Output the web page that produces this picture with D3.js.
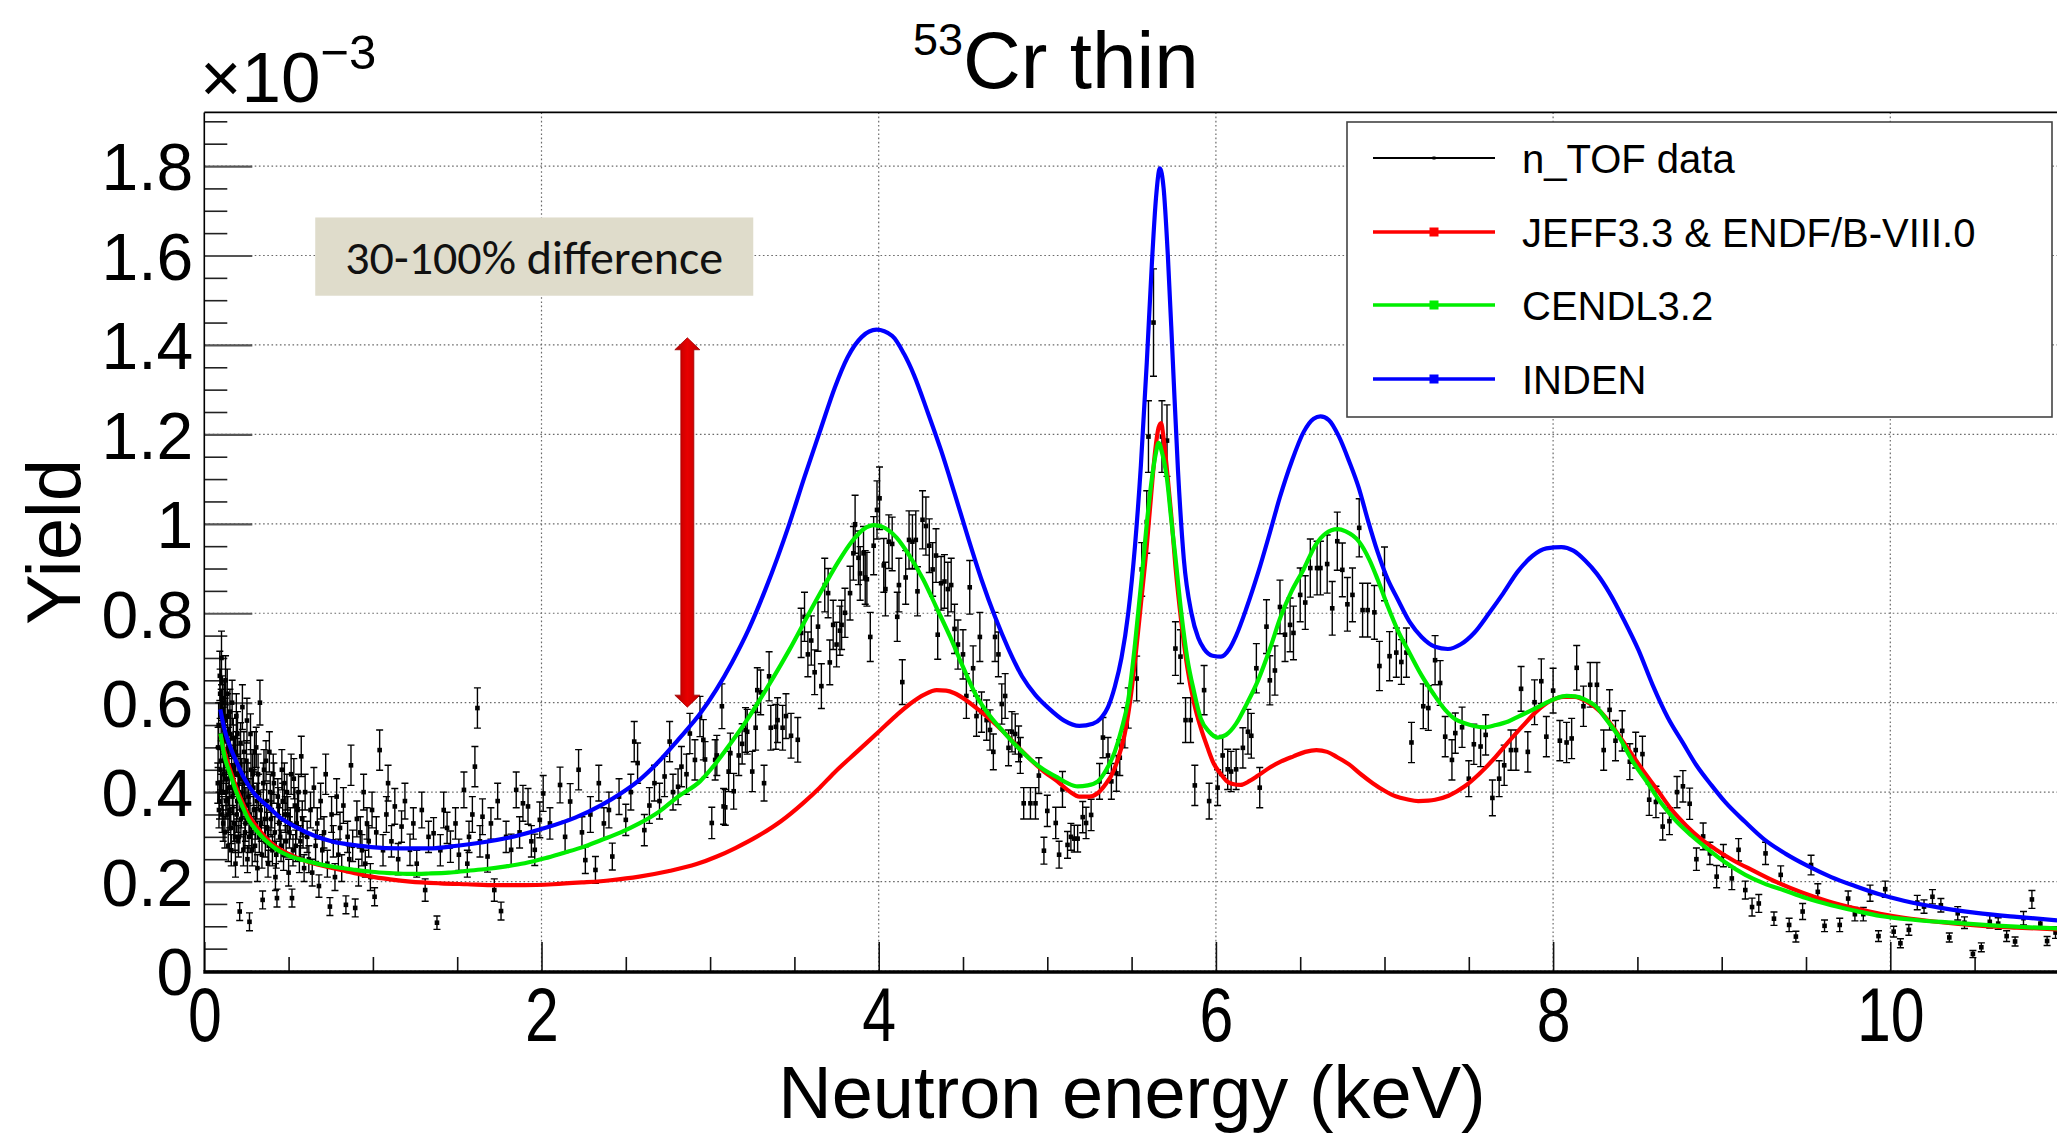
<!DOCTYPE html>
<html><head><meta charset="utf-8">
<script src="https://cdn.jsdelivr.net/npm/d3@7"></script>
<style>
html,body{margin:0;padding:0;background:#fff;}
svg{display:block;}
</style></head><body>
<svg id="chart" width="2057" height="1134"></svg>
<script>
// ---------------- DATA ----------------
// n_TOF data, in segments: energy (keV), yield (x1e-3), error (x1e-3)
const s1E = [0.080,0.085,0.090,0.094,0.098,0.102,0.106,0.110,0.114,0.118,
0.122,0.126,0.130,0.134,0.138,0.142,0.146,0.150,0.155,0.160,
0.165,0.170,0.175,0.180,0.185,0.190,0.195,0.200,0.205,0.210,
0.215,0.220,0.226,0.232,0.238,0.244,0.250,0.256,0.262,0.268,
0.274,0.280,0.287,0.294,0.301,0.308,0.315,0.322,0.330,0.338,
0.346,0.354,0.362,0.370,0.378,0.386,0.395,0.404,0.413,0.422,
0.431,0.440,0.450,0.460,0.470,0.480,0.490,0.500,0.510,0.520,
0.531,0.542,0.553,0.564,0.575,0.586,0.598];
const s1Y = [0.42,0.55,0.38,0.62,0.47,0.70,0.35,0.52,0.44,0.60,
0.31,0.65,0.40,0.49,0.57,0.28,0.45,0.36,0.53,0.27,
0.60,0.41,0.33,0.48,0.24,0.57,0.38,0.44,0.30,0.133,
0.51,0.36,0.59,0.27,0.42,0.33,0.47,0.25,0.39,0.110,
0.53,0.31,0.44,0.36,0.28,0.50,0.23,0.40,0.60,0.33,
0.159,0.45,0.29,0.38,0.24,0.49,0.34,0.27,0.42,0.21,
0.163,0.37,0.30,0.45,0.26,0.35,0.40,0.22,0.33,0.163,
0.43,0.28,0.36,0.25,0.48,0.31,0.40];
const s1Err = [0.045,0.05,0.04,0.055,0.045,0.06,0.04,0.05,0.045,0.05,
0.035,0.055,0.04,0.045,0.05,0.035,0.045,0.04,0.05,0.035,
0.05,0.045,0.04,0.045,0.03,0.05,0.04,0.045,0.035,0.02,
0.045,0.04,0.05,0.035,0.045,0.04,0.045,0.03,0.04,0.02,
0.045,0.035,0.045,0.04,0.035,0.045,0.03,0.04,0.05,0.04,
0.02,0.045,0.035,0.04,0.03,0.045,0.04,0.035,0.045,0.03,
0.02,0.04,0.035,0.045,0.035,0.04,0.04,0.03,0.035,0.02,
0.045,0.035,0.04,0.03,0.045,0.035,0.04];

const s2E = [0.082,0.087,0.092,0.096,0.100,0.104,0.108,0.112,0.116,0.120,
0.124,0.128,0.132,0.136,0.140,0.144,0.148,0.152,0.157,0.162,
0.167,0.172,0.177,0.182,0.187,0.192,0.197,0.202,0.207,0.212,
0.217,0.223,0.229,0.235,0.241,0.247,0.253,0.259,0.265,0.271,
0.277,0.284,0.291,0.298,0.305,0.312,0.319,0.326,0.334,0.342,
0.350,0.358,0.366,0.374,0.382,0.391,0.400,0.409,0.418,0.427,
0.436,0.445,0.455,0.465,0.475,0.485,0.495,0.505,0.515,0.526,
0.537,0.548,0.559,0.570,0.581,0.592];
const s2Y = [0.50,0.36,0.66,0.45,0.58,0.40,0.61,0.33,0.54,0.47,
0.56,0.38,0.43,0.62,0.35,0.50,0.41,0.58,0.32,0.46,
0.39,0.52,0.44,0.30,0.49,0.35,0.53,0.29,0.40,0.46,
0.34,0.43,0.38,0.49,0.31,0.37,0.56,0.42,0.30,0.35,
0.45,0.27,0.41,0.49,0.33,0.38,0.44,0.30,0.36,0.26,
0.42,0.34,0.47,0.32,0.28,0.40,0.36,0.44,0.31,0.26,
0.39,0.33,0.28,0.38,0.42,0.29,0.35,0.31,0.44,0.27,
0.37,0.33,0.40,0.29,0.34,0.23];
const s2Err = [0.045,0.04,0.055,0.045,0.05,0.04,0.05,0.04,0.05,0.045,
0.05,0.04,0.045,0.055,0.04,0.045,0.04,0.05,0.035,0.045,
0.04,0.045,0.045,0.035,0.045,0.04,0.05,0.035,0.04,0.045,
0.04,0.045,0.04,0.045,0.035,0.04,0.05,0.045,0.035,0.04,
0.045,0.035,0.04,0.045,0.035,0.04,0.045,0.035,0.04,0.03,
0.045,0.04,0.045,0.035,0.035,0.04,0.04,0.045,0.035,0.03,
0.04,0.035,0.035,0.04,0.045,0.035,0.04,0.035,0.045,0.035,
0.04,0.035,0.04,0.035,0.04,0.03];

const s3E = [0.61,0.62,0.63,0.64,0.65,0.66,0.67,0.68,0.69,0.70,
0.71,0.72,0.73,0.745,0.755,0.765,0.775,0.785,0.795,0.805,
0.815,0.825,0.84,0.85,0.86,0.87,0.88,0.895,0.905,0.915,
0.925,0.935,0.945,0.955,0.965,0.975,0.985,0.995];
const s3Y = [0.30,0.25,0.36,0.22,0.41,0.28,0.33,0.19,0.38,0.27,
0.31,0.44,0.24,0.144,0.35,0.29,0.21,0.39,0.26,0.32,
0.23,0.37,0.148,0.30,0.25,0.46,0.28,0.141,0.34,0.22,
0.31,0.27,0.40,0.24,0.33,0.29,0.21,0.36];
const s3Err = [0.035,0.03,0.04,0.03,0.045,0.035,0.035,0.025,0.04,0.035,
0.035,0.045,0.03,0.02,0.04,0.035,0.03,0.04,0.035,0.035,
0.03,0.04,0.02,0.035,0.03,0.045,0.035,0.02,0.04,0.03,
0.035,0.035,0.04,0.03,0.035,0.035,0.03,0.04];

const s4E = [1.01,1.02,1.04,1.06,1.08,1.09,1.11,1.13,1.15,1.17,
1.19,1.22,1.24,1.26,1.29,1.31,1.33,1.36,1.38,1.40,
1.42,1.44,1.46,1.49,1.51,1.54,1.56,1.57,1.59,1.605,
1.62,1.635,1.65,1.68,1.70,1.72,1.74,1.76,1.79,1.82,
1.85,1.87,1.89,1.92,1.94,1.96,1.99];
const s4Y = [0.166,0.31,0.494,0.27,0.35,0.42,0.29,0.368,0.25,0.323,
0.38,0.271,0.33,0.24,0.36,0.181,0.30,0.308,0.108,0.27,
0.36,0.32,0.278,0.33,0.26,0.405,0.24,0.30,0.35,0.457,
0.588,0.29,0.345,0.256,0.33,0.181,0.38,0.134,0.30,0.271,
0.405,0.31,0.375,0.368,0.29,0.271,0.338];
const s4Err = [0.02,0.035,0.045,0.035,0.04,0.04,0.035,0.04,0.035,0.035,
0.04,0.035,0.035,0.03,0.04,0.025,0.035,0.035,0.015,0.035,
0.04,0.035,0.035,0.035,0.035,0.04,0.03,0.035,0.04,0.045,
0.045,0.035,0.04,0.035,0.035,0.025,0.04,0.02,0.035,0.035,
0.04,0.035,0.04,0.04,0.035,0.035,0.04];

const s5E = [2.01,2.05,2.11,2.14,2.17,2.22,2.24,2.26,2.29,2.32,
2.34,2.37,2.40,2.42,2.46,2.50,2.53,2.55,2.57,2.61,
2.64,2.67,2.70,2.73,2.76,2.78,2.81,2.83,2.86,2.88,2.91];
const s5Y = [0.397,0.33,0.416,0.30,0.379,0.45,0.31,0.248,0.35,0.226,
0.42,0.33,0.36,0.256,0.39,0.338,0.40,0.513,0.465,0.315,
0.37,0.42,0.38,0.435,0.513,0.40,0.412,0.457,0.44,0.531,0.472];
const s5Err = [0.04,0.035,0.04,0.035,0.04,0.045,0.035,0.03,0.04,0.03,
0.04,0.035,0.04,0.03,0.04,0.035,0.04,0.045,0.045,0.035,
0.04,0.04,0.04,0.045,0.045,0.04,0.04,0.045,0.045,0.045,0.045];

const s6E = [2.94,2.96,2.97,3.01,3.03,3.04,3.07,3.08,3.09,3.11,
3.12,3.14,3.17,3.19,3.21,3.22,3.25,3.27,3.28,3.30,
3.32,3.35,3.36,3.39,3.40,3.43,3.45,3.48,3.52];
const s6Y = [0.569,0.517,0.473,0.331,0.472,0.482,0.592,0.368,0.366,0.446,
0.487,0.402,0.482,0.508,0.539,0.535,0.446,0.544,0.628,0.623,
0.42,0.659,0.544,0.546,0.561,0.544,0.57,0.526,0.517];
const s6Err = [0.045,0.045,0.04,0.035,0.045,0.045,0.05,0.04,0.04,0.045,
0.045,0.04,0.045,0.045,0.05,0.05,0.045,0.05,0.05,0.05,
0.04,0.055,0.05,0.05,0.05,0.05,0.05,0.05,0.05];

const s7E = [3.54,3.56,3.58,3.60,3.62,3.64,3.66,3.68,3.70,3.71,
3.73,3.75,3.77,3.78,3.80,3.83,3.85,3.86,3.88,3.89,
3.91,3.92,3.93,3.95,3.97,3.99,4.005,4.03,4.04,4.06,
4.08,4.11,4.12,4.14,4.16,4.18,4.20,4.22,4.23,4.26,
4.28,4.30,4.32,4.34,4.35,4.37,4.39,4.41,4.43,4.45,
4.47,4.50,4.52,4.54,4.56,4.58,4.60,4.61,4.64,4.66,
4.68,4.69,4.71,4.73,4.75,4.77,4.79,4.81,4.83,4.84,
4.86,4.90,4.93,4.95,4.98,5.00,5.05,5.07,5.09,5.12,
5.14,5.16,5.18,5.21,5.23,5.26,5.31,5.33,5.36,5.38,
5.41,5.43,5.46,5.48,5.53,5.56,5.59,5.60,5.63,5.68,5.71];
const s7Y = [0.756,0.792,0.708,0.739,0.668,0.77,0.637,0.863,0.845,0.69,
0.774,0.73,0.761,0.774,0.801,0.845,0.934,0.999,0.924,0.889,
0.934,0.88,0.876,0.747,0.951,1.031,1.057,0.907,0.854,0.96,
0.955,0.792,0.863,0.646,0.88,0.964,0.96,0.964,0.849,1.009,
0.995,0.951,0.898,0.929,0.752,0.867,0.871,0.854,0.863,0.765,
0.73,0.708,0.615,0.858,0.677,0.57,0.747,0.579,0.561,0.539,
0.49,0.747,0.708,0.597,0.615,0.499,0.535,0.53,0.508,0.482,
0.375,0.375,0.375,0.437,0.269,0.358,0.331,0.26,0.406,0.282,
0.30,0.296,0.296,0.344,0.331,0.349,0.424,0.522,0.482,0.424,
0.442,0.477,0.544,0.588,0.654,0.898,1.004,1.195,1.45,1.195,1.186];
const s7Err = [0.055,0.055,0.05,0.055,0.05,0.055,0.05,0.06,0.055,0.05,
0.055,0.05,0.055,0.055,0.055,0.06,0.06,0.065,0.06,0.06,
0.06,0.06,0.06,0.055,0.065,0.065,0.07,0.06,0.06,0.06,
0.06,0.055,0.06,0.05,0.06,0.065,0.06,0.065,0.055,0.065,
0.065,0.06,0.06,0.06,0.055,0.06,0.06,0.06,0.06,0.055,
0.055,0.055,0.05,0.06,0.05,0.045,0.055,0.045,0.045,0.045,
0.04,0.055,0.05,0.045,0.05,0.04,0.045,0.045,0.04,0.04,
0.035,0.035,0.035,0.04,0.03,0.035,0.035,0.03,0.04,0.03,
0.03,0.03,0.03,0.035,0.035,0.035,0.04,0.045,0.04,0.04,
0.04,0.04,0.045,0.045,0.05,0.06,0.07,0.08,0.12,0.08,0.08];

const s8E = [5.76,5.79,5.82,5.85,5.875,5.93,5.96,6.01,6.04,6.07,
6.09,6.12,6.16,6.19,6.21,6.24,6.26,6.30,6.32,6.35,
6.38,6.41,6.44,6.46];
const s8Y = [0.721,0.703,0.561,0.561,0.415,0.628,0.38,0.41,0.482,0.451,
0.446,0.451,0.499,0.535,0.526,0.677,0.41,0.77,0.65,0.672,
0.814,0.752,0.774,0.756];
const s8Err = [0.06,0.06,0.05,0.05,0.045,0.055,0.04,0.04,0.045,0.045,
0.045,0.045,0.045,0.05,0.05,0.055,0.045,0.06,0.055,0.055,
0.06,0.06,0.06,0.06];

const s9E = [6.50,6.53,6.56,6.60,6.62,6.66,6.69,6.72,6.75,6.78,
6.81,6.85,6.87,6.90,6.94,6.97,7.00,7.03,7.07,7.10,
7.13,7.16,7.23,7.26,7.30,7.33,7.36,7.40,7.42,7.46,
7.50,7.53,7.57,7.60,7.64,7.68,7.71,7.75,7.78,7.81,
7.85,7.89,7.93,7.96,8.00,8.04,8.08,8.11,8.14,8.18,
8.22,8.26,8.30,8.335,8.37,8.41,8.455,8.49,8.53,8.57,
8.61,8.65,8.69,8.735,8.77,8.81,8.85,8.89,8.93,8.97,
9.01,9.06,9.10,9.14,9.18,9.22,9.26,9.31,9.35,9.40,
9.44,9.48,9.53,9.57,9.61,9.70,9.75,9.79,9.84,9.88,
9.93,9.97,10.02,10.06,10.11,10.16,10.20,10.25,10.30,10.35,
10.40,10.44,10.49,10.54,10.59,10.64,10.69,10.74,10.79,10.84,
10.89,10.93,10.98];
const s9Y = [0.841,0.824,0.901,0.901,0.901,0.91,0.811,0.961,0.897,0.82,
0.841,0.991,0.807,0.807,0.802,0.682,0.888,0.704,0.712,0.691,
0.712,0.511,0.592,0.588,0.695,0.644,0.524,0.472,0.532,0.545,
0.43,0.507,0.502,0.528,0.387,0.43,0.46,0.494,0.494,0.631,
0.49,0.601,0.648,0.524,0.627,0.515,0.511,0.52,0.678,0.592,
0.64,0.64,0.494,0.584,0.515,0.537,0.468,0.494,0.485,0.383,
0.378,0.323,0.335,0.40,0.413,0.374,0.25,0.301,0.263,0.211,
0.258,0.207,0.271,0.181,0.143,0.151,0.263,0.117,0.215,0.103,
0.077,0.133,0.237,0.177,0.101,0.103,0.162,0.127,0.127,0.174,
0.078,0.183,0.088,0.062,0.092,0.153,0.144,0.166,0.147,0.075,
0.129,0.108,0.038,0.053,0.11,0.106,0.078,0.066,0.118,0.16,
0.106,0.067,0.086];
const s9Err = [0.06,0.06,0.065,0.06,0.06,0.065,0.06,0.065,0.06,0.06,
0.06,0.065,0.06,0.06,0.06,0.055,0.06,0.055,0.055,0.05,
0.055,0.045,0.05,0.05,0.055,0.05,0.045,0.045,0.045,0.045,
0.04,0.045,0.045,0.045,0.04,0.04,0.045,0.045,0.045,0.05,
0.045,0.05,0.05,0.045,0.05,0.045,0.045,0.045,0.05,0.045,
0.05,0.05,0.045,0.045,0.045,0.045,0.04,0.04,0.04,0.035,
0.035,0.03,0.03,0.035,0.035,0.035,0.025,0.03,0.025,0.025,
0.025,0.025,0.025,0.02,0.02,0.02,0.025,0.015,0.02,0.015,
0.012,0.018,0.022,0.018,0.013,0.015,0.017,0.015,0.015,0.018,
0.012,0.018,0.012,0.01,0.012,0.016,0.015,0.016,0.015,0.01,
0.015,0.013,0.008,0.01,0.014,0.013,0.012,0.01,0.015,0.02,
0.013,0.01,0.013];

// Evaluated-library yields (keV, x1e-3)
const redE = [0.096,0.12,0.153,0.19,0.22,0.26,0.31,0.36,0.425,0.5,
0.584,0.67,0.765,0.88,0.99,1.1,1.22,1.4,1.56,1.73,
1.90,2.07,2.24,2.41,2.58,2.75,2.92,3.04,3.15,3.28,
3.42,3.55,3.65,3.735,3.87,4.0,4.1,4.185,4.27,4.344,
4.40,4.45,4.52,4.58,4.66,4.74,4.82,4.90,4.98,5.06,
5.13,5.19,5.25,5.30,5.35,5.38,5.42,5.457,5.49,5.523,
5.555,5.59,5.615,5.64,5.66,5.675,5.69,5.71,5.735,5.76,
5.795,5.83,5.87,5.91,5.95,5.987,6.03,6.066,6.10,6.146,
6.2,6.25,6.32,6.384,6.46,6.53,6.596,6.66,6.72,6.79,
6.86,6.93,7.0,7.07,7.133,7.20,7.26,7.30,7.38,7.476,
7.56,7.648,7.73,7.82,7.90,7.99,8.06,8.13,8.20,8.28,
8.36,8.45,8.53,8.62,8.70,8.79,8.875,8.96,9.07,9.19,
9.33,9.48,9.63,9.79,9.94,10.08,10.3,10.51,10.75,11.0];
const redY = [0.528,0.49,0.45,0.41,0.382,0.35,0.323,0.30,0.278,0.262,
0.248,0.238,0.23,0.22,0.211,0.205,0.2,0.196,0.194,0.192,
0.192,0.194,0.198,0.203,0.211,0.223,0.239,0.256,0.275,0.301,
0.335,0.375,0.41,0.443,0.49,0.535,0.57,0.597,0.618,0.628,
0.627,0.621,0.605,0.588,0.563,0.535,0.503,0.473,0.446,0.424,
0.402,0.39,0.39,0.398,0.42,0.437,0.475,0.526,0.6,0.703,
0.82,0.951,1.06,1.164,1.215,1.225,1.19,1.12,1.02,0.905,
0.78,0.68,0.6,0.544,0.5,0.464,0.44,0.424,0.418,0.416,
0.425,0.437,0.455,0.468,0.48,0.49,0.494,0.49,0.478,0.462,
0.44,0.42,0.403,0.39,0.384,0.38,0.381,0.383,0.392,0.413,
0.44,0.474,0.51,0.548,0.58,0.605,0.613,0.613,0.602,0.58,
0.543,0.494,0.45,0.404,0.362,0.325,0.296,0.273,0.247,0.224,
0.198,0.175,0.156,0.14,0.128,0.119,0.109,0.102,0.097,0.093];

const greenE = [0.096,0.12,0.153,0.19,0.22,0.26,0.31,0.36,0.425,0.5,
0.584,0.67,0.765,0.88,0.99,1.1,1.22,1.33,1.45,1.56,
1.673,1.79,1.90,2.02,2.13,2.245,2.355,2.47,2.58,2.70,
2.81,2.94,3.035,3.12,3.22,3.32,3.42,3.47,3.58,3.68,
3.76,3.84,3.91,3.974,4.04,4.106,4.18,4.265,4.34,4.424,
4.50,4.58,4.66,4.74,4.82,4.90,4.98,5.06,5.12,5.18,
5.24,5.30,5.35,5.40,5.44,5.48,5.52,5.56,5.59,5.62,
5.645,5.66,5.68,5.71,5.735,5.76,5.795,5.83,5.87,5.91,
5.96,6.01,6.06,6.12,6.18,6.25,6.32,6.384,6.45,6.52,
6.59,6.65,6.72,6.77,6.847,6.91,6.96,7.02,7.076,7.15,
7.22,7.29,7.36,7.42,7.476,7.53,7.59,7.66,7.734,7.80,
7.877,7.95,8.02,8.08,8.13,8.19,8.25,8.32,8.39,8.47,
8.56,8.64,8.73,8.82,8.91,9.02,9.14,9.25,9.365,9.5,
9.65,9.8,9.94,10.15,10.37,10.6,10.8,11.0];
const greenY = [0.531,0.48,0.441,0.40,0.373,0.34,0.314,0.293,0.273,0.258,
0.248,0.24,0.233,0.227,0.222,0.219,0.217,0.218,0.22,0.224,
0.228,0.234,0.241,0.252,0.264,0.277,0.293,0.31,0.33,0.357,
0.39,0.424,0.465,0.508,0.562,0.622,0.685,0.718,0.795,0.863,
0.915,0.96,0.988,0.997,0.99,0.969,0.93,0.875,0.815,0.747,
0.68,0.615,0.57,0.535,0.502,0.473,0.45,0.433,0.42,0.413,
0.415,0.424,0.45,0.49,0.54,0.606,0.73,0.88,1.0,1.10,
1.16,1.181,1.16,1.10,1.01,0.925,0.80,0.70,0.625,0.565,
0.535,0.522,0.528,0.553,0.595,0.65,0.72,0.792,0.85,0.898,
0.952,0.978,0.988,0.983,0.961,0.92,0.875,0.815,0.764,0.71,
0.661,0.62,0.584,0.563,0.554,0.548,0.545,0.55,0.558,0.57,
0.584,0.598,0.61,0.615,0.614,0.607,0.593,0.56,0.524,0.47,
0.421,0.376,0.335,0.303,0.275,0.243,0.215,0.196,0.181,0.163,
0.147,0.134,0.123,0.114,0.108,0.102,0.098,0.095];

const blueE = [0.095,0.12,0.153,0.2,0.243,0.3,0.38,0.45,0.539,0.65,
0.765,0.88,0.99,1.15,1.333,1.5,1.673,1.85,2.014,2.2,
2.355,2.47,2.58,2.7,2.81,2.94,3.035,3.13,3.23,3.33,
3.47,3.56,3.656,3.74,3.815,3.9,3.987,4.08,4.15,4.21,
4.29,4.37,4.45,4.53,4.61,4.69,4.77,4.85,4.93,5.007,
5.1,5.19,5.27,5.32,5.36,5.40,5.44,5.48,5.52,5.555,
5.59,5.62,5.645,5.668,5.69,5.715,5.745,5.775,5.81,5.855,
5.895,5.93,5.98,6.03,6.08,6.12,6.18,6.25,6.32,6.38,
6.45,6.52,6.58,6.62,6.67,6.73,6.79,6.847,6.90,6.96,
7.02,7.076,7.15,7.22,7.30,7.376,7.45,7.534,7.62,7.705,
7.79,7.877,7.96,8.05,8.12,8.19,8.26,8.335,8.42,8.506,
8.59,8.68,8.77,8.85,8.94,9.02,9.14,9.25,9.38,9.51,
9.65,9.79,9.93,10.08,10.3,10.51,10.75,11.0];
const blueY = [0.585,0.54,0.502,0.46,0.427,0.395,0.367,0.343,0.323,0.303,
0.289,0.282,0.277,0.274,0.274,0.28,0.289,0.302,0.319,0.343,
0.371,0.397,0.427,0.47,0.517,0.575,0.628,0.69,0.765,0.855,
1.0,1.105,1.212,1.305,1.372,1.418,1.434,1.42,1.38,1.332,
1.25,1.164,1.068,0.969,0.875,0.792,0.72,0.659,0.617,0.588,
0.56,0.548,0.553,0.566,0.59,0.635,0.70,0.80,0.95,1.13,
1.36,1.58,1.73,1.795,1.75,1.60,1.36,1.12,0.92,0.80,
0.745,0.72,0.705,0.703,0.72,0.75,0.81,0.89,0.98,1.06,
1.14,1.205,1.235,1.24,1.232,1.195,1.14,1.081,1.01,0.936,
0.875,0.833,0.78,0.747,0.725,0.72,0.73,0.757,0.80,0.845,
0.893,0.928,0.945,0.948,0.94,0.918,0.888,0.845,0.785,0.718,
0.64,0.567,0.51,0.46,0.415,0.378,0.333,0.295,0.262,0.235,
0.21,0.19,0.172,0.157,0.141,0.13,0.121,0.113];

// Axis ticks / labels / texts
const xMajor = [0, 2, 4, 6, 8, 10];
const xTickLabels = ["0", "2", "4", "6", "8", "10"];
const yMajor = [0, 0.2, 0.4, 0.6, 0.8, 1.0, 1.2, 1.4, 1.6, 1.8];
const yTickLabels = ["0", "0.2", "0.4", "0.6", "0.8", "1", "1.2", "1.4", "1.6", "1.8"];
const legendLabels = ["n_TOF data", "JEFF3.3 & ENDF/B-VIII.0", "CENDL3.2", "INDEN"];
const seriesColors = ["#000000", "#ff0000", "#00ee00", "#0000ff"];
const annotationText = "30-100% difference";
const annotationBoxE = [0.658, 3.256];
const annotationBoxY = [1.51, 1.685];
const arrowE = 2.865;
const arrowY = [0.59, 1.416];

// ---------------- DRAWING ----------------
const FONT = "'Liberation Sans', Arial, Helvetica, sans-serif";
const W = 2057, H = 1134;
const svg = d3.select("#chart");
svg.append("rect").attr("width", W).attr("height", H).attr("fill", "#fff");

const x = d3.scaleLinear().domain([0, 11]).range([204.3, 204.3 + 11 * 168.6]);
const y = d3.scaleLinear().domain([0, 1.92]).range([971, 971 - 1.92 * 447.2]);
const pL = x(0), pR = x(11), pT = y(1.92), pB = y(0);

const defs = svg.append("defs");
defs.append("clipPath").attr("id", "clip")
  .append("rect").attr("x", pL).attr("y", pT).attr("width", pR - pL).attr("height", pB - pT);

// grid (dotted)
const grid = svg.append("g").attr("stroke", "#6a6a6a").attr("stroke-width", 1.2).attr("stroke-dasharray", "1.6,2.6");
grid.selectAll("line.gv").data(xMajor.filter(d => d > 0)).join("line")
  .attr("x1", d => x(d)).attr("x2", d => x(d)).attr("y1", pT).attr("y2", pB);
grid.selectAll("line.gh").data(yMajor).join("line")
  .attr("x1", pL).attr("x2", pR).attr("y1", d => y(d)).attr("y2", d => y(d));

// minor tick values
const yMinor = d3.range(1, 39).map(i => i * 0.05).filter(v => Math.abs(v / 0.2 - Math.round(v / 0.2)) > 1e-6);
const xMinor = d3.range(1, 22).map(i => i * 0.5).filter(v => Math.abs(v / 2 - Math.round(v / 2)) > 1e-6);

// Y axis
svg.append("g").attr("transform", `translate(${pL},0)`)
  .call(d3.axisLeft(y).tickValues(yMinor).tickFormat("").tickSizeInner(-23).tickSizeOuter(0))
  .call(g => g.select(".domain").remove())
  .call(g => g.selectAll("line").attr("stroke", "#222").attr("stroke-width", 1.6));
svg.append("g").attr("transform", `translate(${pL},0)`)
  .call(d3.axisLeft(y).tickValues(yMajor).tickFormat((d, i) => yTickLabels[i]).tickSizeInner(-48).tickSizeOuter(0).tickPadding(11))
  .call(g => g.select(".domain").remove())
  .call(g => g.selectAll("line").attr("stroke", "#555").attr("stroke-width", 2.2))
  .call(g => g.selectAll("text").attr("font-family", FONT).attr("font-size", 66).attr("fill", "#000").attr("dy", "0.36em"));

// X axis
svg.append("g").attr("transform", `translate(0,${pB})`)
  .call(d3.axisBottom(x).tickValues(xMinor).tickFormat("").tickSizeInner(-14).tickSizeOuter(0))
  .call(g => g.select(".domain").remove())
  .call(g => g.selectAll("line").attr("stroke", "#111").attr("stroke-width", 1.6));
svg.append("g").attr("transform", `translate(0,${pB})`)
  .call(d3.axisBottom(x).tickValues(xMajor).tickFormat((d, i) => xTickLabels[i]).tickSizeInner(-29).tickSizeOuter(0).tickPadding(15))
  .call(g => g.select(".domain").remove())
  .call(g => g.selectAll("line").attr("stroke", "#111").attr("stroke-width", 1.6))
  .call(g => g.selectAll("text").attr("font-family", FONT).attr("font-size", 76).attr("fill", "#000")
    .attr("dy", "0.72em").attr("transform", "scale(0.8,1)"));

// n_TOF data
const pts = [
  [s1E, s1Y, s1Err], [s2E, s2Y, s2Err], [s3E, s3Y, s3Err], [s4E, s4Y, s4Err], [s5E, s5Y, s5Err],
  [s6E, s6Y, s6Err], [s7E, s7Y, s7Err], [s8E, s8Y, s8Err], [s9E, s9Y, s9Err]
].flatMap(([E, Y, S]) => E.map((e, i) => ({ e, v: Y[i], s: S[i] })));

const dataG = svg.append("g").attr("clip-path", "url(#clip)");
const eb = d3.path();
pts.forEach(p => {
  const px = x(p.e), y1 = y(p.v - p.s), y2 = y(p.v + p.s);
  eb.moveTo(px, y1); eb.lineTo(px, y2);
  eb.moveTo(px - 3.5, y1); eb.lineTo(px + 3.5, y1);
  eb.moveTo(px - 3.5, y2); eb.lineTo(px + 3.5, y2);
});
dataG.append("path").attr("d", eb.toString()).attr("stroke", "#000").attr("stroke-width", 1.4).attr("fill", "none");
dataG.selectAll("rect.m").data(pts).join("rect")
  .attr("x", p => x(p.e) - 2.3).attr("y", p => y(p.v) - 2.3).attr("width", 4.6).attr("height", 4.6).attr("fill", "#000");

// curves
const line = d3.line().x(d => x(d[0])).y(d => y(d[1])).curve(d3.curveMonotoneX);
const curves = [
  [redE, redY, seriesColors[1]],
  [greenE, greenY, seriesColors[2]],
  [blueE, blueY, seriesColors[3]]
];
const curveG = svg.append("g").attr("clip-path", "url(#clip)");
curves.forEach(([E, Y, c]) => {
  curveG.append("path").datum(E.map((e, i) => [e, Y[i]]))
    .attr("d", line).attr("fill", "none").attr("stroke", c).attr("stroke-width", 4.2)
    .attr("stroke-linejoin", "round");
});

// frame
svg.append("line").attr("x1", pL).attr("x2", pL).attr("y1", pT).attr("y2", pB).attr("stroke", "#000").attr("stroke-width", 1.6);
svg.append("line").attr("x1", pL).attr("x2", W).attr("y1", pT).attr("y2", pT).attr("stroke", "#000").attr("stroke-width", 1.6);
svg.append("line").attr("x1", pL - 1).attr("x2", W).attr("y1", pB + 1).attr("y2", pB + 1).attr("stroke", "#000").attr("stroke-width", 3.4);

// annotation box + red arrow
const ax0 = x(annotationBoxE[0]), ax1 = x(annotationBoxE[1]);
const ay0 = y(annotationBoxY[1]), ay1 = y(annotationBoxY[0]);
svg.append("rect").attr("x", ax0).attr("y", ay0).attr("width", ax1 - ax0).attr("height", ay1 - ay0).attr("fill", "#dfdccb");
svg.append("text").attr("x", (ax0 + ax1) / 2).attr("y", (ay0 + ay1) / 2 + 17)
  .attr("text-anchor", "middle").attr("font-family", "Carlito, Lato, 'Open Sans', sans-serif")
  .attr("font-size", 47).attr("fill", "#111").attr("textLength", 378).attr("lengthAdjust", "spacingAndGlyphs")
  .text(annotationText);

const axc = x(arrowE), at = y(arrowY[1]), ab = y(arrowY[0]);
const sw = 6.5, hw = 12.5, hl = 12;
const arrowPath = `M${axc},${at} L${axc + hw},${at + hl} L${axc + sw},${at + hl} L${axc + sw},${ab - hl} L${axc + hw},${ab - hl} L${axc},${ab} L${axc - hw},${ab - hl} L${axc - sw},${ab - hl} L${axc - sw},${at + hl} L${axc - hw},${at + hl} Z`;
const grad = defs.append("linearGradient").attr("id", "ag").attr("x1", "0").attr("x2", "1").attr("y1", "0").attr("y2", "0");
grad.append("stop").attr("offset", "0").attr("stop-color", "#b00000");
grad.append("stop").attr("offset", "0.5").attr("stop-color", "#e80000");
grad.append("stop").attr("offset", "1").attr("stop-color", "#c00000");
svg.append("path").attr("d", arrowPath).attr("fill", "url(#ag)").attr("stroke", "#a00000").attr("stroke-width", 0.8);

// legend
const lg = svg.append("g");
lg.append("rect").attr("x", 1347).attr("y", 122).attr("width", 705).attr("height", 295)
  .attr("fill", "#fff").attr("stroke", "#444").attr("stroke-width", 1.6);
const rowY = [158, 232, 305, 379];
legendLabels.forEach((lab, i) => {
  const c = seriesColors[i];
  lg.append("line").attr("x1", 1373).attr("x2", 1495).attr("y1", rowY[i]).attr("y2", rowY[i])
    .attr("stroke", c).attr("stroke-width", i === 0 ? 2 : 3.4);
  const ms = i === 0 ? 3 : 9;
  lg.append("rect").attr("x", 1434 - ms / 2).attr("y", rowY[i] - ms / 2).attr("width", ms).attr("height", ms).attr("fill", c);
  lg.append("text").attr("x", 1522).attr("y", rowY[i] + 15).attr("font-family", FONT).attr("font-size", 40)
    .attr("fill", "#000").text(lab);
});

// titles
const t = svg.append("text").attr("x", 913).attr("font-family", FONT).attr("fill", "#000");
t.append("tspan").attr("y", 55).attr("font-size", 45).text("53");
t.append("tspan").attr("y", 88).attr("font-size", 80).text("Cr thin");

const e = svg.append("text").attr("x", 200).attr("font-family", FONT).attr("fill", "#000");
e.append("tspan").attr("y", 102).attr("font-size", 71).text("×10");
e.append("tspan").attr("y", 69).attr("font-size", 49).text("−3");

svg.append("text").attr("x", 1132).attr("y", 1118).attr("text-anchor", "middle")
  .attr("font-family", FONT).attr("font-size", 74).attr("fill", "#000").text("Neutron energy (keV)");
svg.append("text").attr("transform", "translate(80,542) rotate(-90)").attr("text-anchor", "middle")
  .attr("font-family", FONT).attr("font-size", 76).attr("fill", "#000").text("Yield");
</script>
</body></html>
